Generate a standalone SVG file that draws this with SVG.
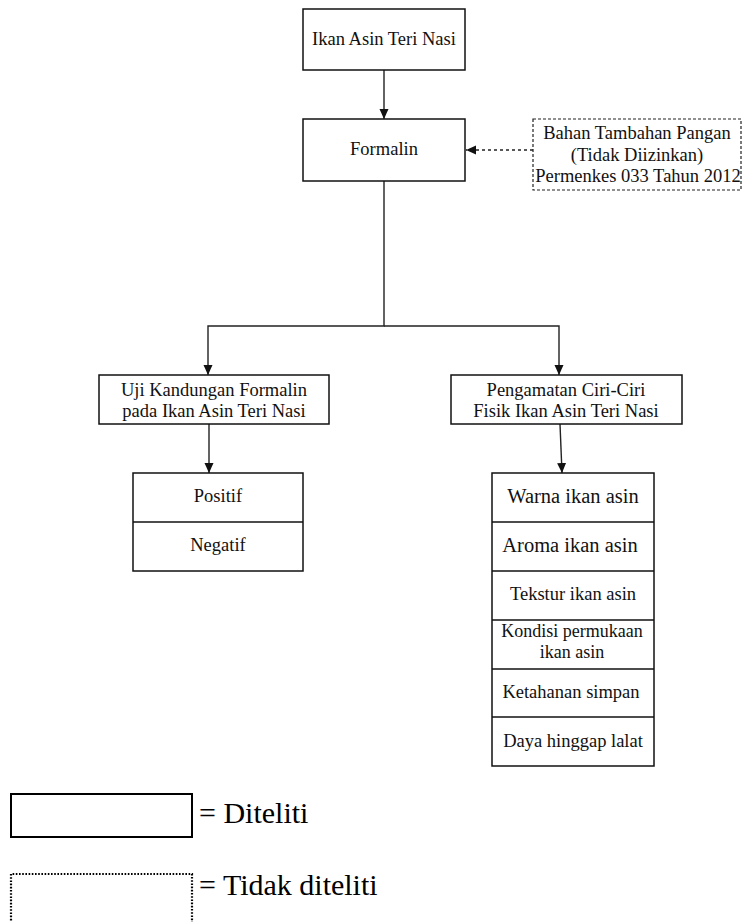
<svg xmlns="http://www.w3.org/2000/svg" width="745" height="922" viewBox="0 0 745 922">
<defs>
<style>
.box{fill:#fff;stroke:#111;stroke-width:1.5}
.dbox{fill:#fff;stroke:#222;stroke-width:1.2;stroke-dasharray:3 2}
.line{fill:none;stroke:#222;stroke-width:1.4}
.dline{fill:none;stroke:#222;stroke-width:1.4;stroke-dasharray:3 3}
.t{font-family:"Liberation Serif","Times New Roman",serif;font-size:18.5px;fill:#111;text-anchor:middle}
.ts{font-family:"Liberation Serif","Times New Roman",serif;font-size:18px;fill:#111;text-anchor:middle}
.tb{font-family:"Liberation Serif","Times New Roman",serif;font-size:20.5px;fill:#111;text-anchor:middle}
.lg{font-family:"Liberation Serif","Times New Roman",serif;font-size:30px;fill:#000}
</style>
<marker id="arr" markerUnits="userSpaceOnUse" markerWidth="10" markerHeight="10" refX="10" refY="5" orient="auto">
<path d="M0,0.5 L10,5 L0,9.5 z" fill="#111"/>
</marker>
</defs>
<rect width="745" height="922" fill="#fff"/>

<g id="connectors">
<line class="line" x1="384" y1="70" x2="384" y2="119" marker-end="url(#arr)"/>
<line class="dline" x1="533" y1="150" x2="466" y2="150" marker-end="url(#arr)"/>
<polyline class="line" points="384,181 384,326 208,326 208,375" marker-end="url(#arr)"/>
<polyline class="line" points="384,326 559,326 559,375" marker-end="url(#arr)"/>
<line class="line" x1="209" y1="424" x2="209" y2="473" marker-end="url(#arr)"/>
<line class="line" x1="560" y1="424" x2="562" y2="473" marker-end="url(#arr)"/>
</g>

<g id="ikan">
<rect class="box" x="303" y="9" width="162" height="61"/>
<text class="t" x="384" y="45">Ikan Asin Teri Nasi</text>
</g>

<g id="formalin">
<rect class="box" x="303" y="119" width="162" height="62"/>
<text class="t" x="384" y="155">Formalin</text>
</g>

<g id="btp">
<rect class="dbox" x="533" y="119" width="208" height="71"/>
<text class="t" x="637" y="139">Bahan Tambahan Pangan</text>
<text class="t" x="637" y="161">(Tidak Diizinkan)</text>
<text class="t" x="638" y="182">Permenkes 033 Tahun 2012</text>
</g>

<g id="uji">
<rect class="box" x="99" y="375" width="230" height="49"/>
<text class="t" x="214" y="396">Uji Kandungan Formalin</text>
<text class="t" x="214" y="417">pada Ikan Asin Teri Nasi</text>
</g>

<g id="pengamatan">
<rect class="box" x="451" y="375" width="231" height="49"/>
<text class="t" x="566" y="396">Pengamatan Ciri-Ciri</text>
<text class="t" x="566" y="417">Fisik Ikan Asin Teri Nasi</text>
</g>

<g id="hasil">
<rect class="box" x="133" y="473" width="170" height="98"/>
<line class="box" x1="133" y1="522" x2="303" y2="522"/>
<text class="t" x="218" y="502">Positif</text>
<text class="t" x="218" y="551">Negatif</text>
</g>

<g id="ciri">
<rect class="box" x="492" y="473" width="162" height="293"/>
<line class="box" x1="492" y1="522" x2="654" y2="522"/>
<line class="box" x1="492" y1="571" x2="654" y2="571"/>
<line class="box" x1="492" y1="620" x2="654" y2="620"/>
<line class="box" x1="492" y1="669" x2="654" y2="669"/>
<line class="box" x1="492" y1="717" x2="654" y2="717"/>
<text class="tb" x="573" y="503">Warna ikan asin</text>
<text class="tb" x="570" y="552">Aroma ikan asin</text>
<text class="t" x="573" y="600">Tekstur ikan asin</text>
<text class="ts" x="572" y="637">Kondisi permukaan</text>
<text class="ts" x="572" y="658">ikan asin</text>
<text class="t" x="571" y="698">Ketahanan simpan</text>
<text class="t" x="573" y="747">Daya hinggap lalat</text>
</g>

<g id="legend">
<rect x="11" y="794" width="181" height="43" fill="#fff" stroke="#000" stroke-width="2"/>
<text class="lg" x="199" y="823">= Diteliti</text>
<path d="M11,930 L11,874 L192,874 L192,930" fill="none" stroke="#000" stroke-width="2.2" stroke-dasharray="1.6 1.6"/>
<text class="lg" x="199" y="895">= Tidak diteliti</text>
</g>
</svg>
